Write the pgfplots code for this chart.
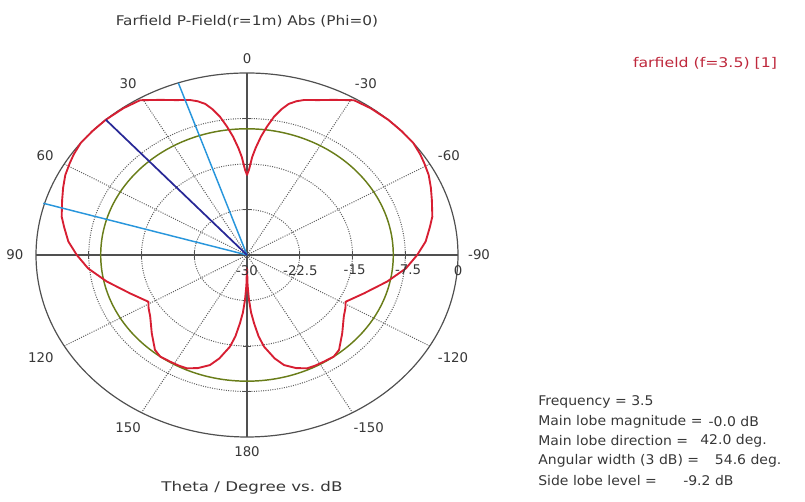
\documentclass[border=0pt]{standalone}
\usepackage{graphicx}
\usepackage{pgfplots}
\usepackage{pgfplotstable}
\usepackage{fontspec}
\setmainfont{DejaVu Sans}
\pgfplotsset{compat=1.18}

\definecolor{cstred}{RGB}{215,30,50}
\definecolor{gridgray}{RGB}{95,95,95}
\definecolor{axgray}{RGB}{80,80,80}
\definecolor{slgreen}{RGB}{105,125,25}
\definecolor{mlblue}{RGB}{40,40,150}
\definecolor{bwblue}{RGB}{40,150,220}
\definecolor{txt}{RGB}{55,55,55}
\definecolor{legred}{RGB}{190,40,60}

% theta (deg), dB
\pgfplotstableread{
theta dB
-180 -28
-179 -25
-177.8 -22.6
-176.5 -20.5
-174.9 -18.7
-173 -16.5
-170.9 -14.7
-167 -12.5
-163.8 -11.1
-159.5 -10.1
-155.4 -9.45
-152 -9.35
-148 -9.3
-143.6 -9.2
-140.1 -9.6
-133.6 -11.3
-126.4 -12.9
-122 -13.5
-118.8 -14.0
-110.8 -12.2
-102.4 -9.6
-95.6 -7.3
-90 -5.8
-85 -4.5
-80 -3.6
-76.5 -2.9
-71 -2.2
-67 -1.6
-63 -1.0
-59 -0.6
-56 -0.3
-52 0.0
-47 0.0
-42 0.0
-36 -0.1
-30.8 -0.3
-25.8 -1.6
-21.8 -2.5
-17.6 -3.2
-15.5 -3.7
-13.4 -4.4
-11.5 -5.5
-9.56 -6.9
-7.7 -8.6
-5.8 -10.4
-4 -12.3
-2.65 -13.8
-1.1 -16.0
0 -16.8
1.1 -16.0
2.65 -13.8
4 -12.3
5.8 -10.4
7.7 -8.6
9.56 -6.9
11.5 -5.5
13.4 -4.4
15.5 -3.7
17.6 -3.2
21.8 -2.5
25.8 -1.6
30.8 -0.3
36 -0.1
42 0.0
47 0.0
52 0.0
56 -0.3
59 -0.6
63 -1.0
67 -1.6
71 -2.2
76.5 -2.9
80 -3.6
85 -4.5
90 -5.8
95.6 -7.3
102.4 -9.6
110.8 -12.2
118.8 -14.0
122 -13.5
126.4 -12.9
133.6 -11.3
140.1 -9.6
143.6 -9.2
148 -9.3
152 -9.35
155.4 -9.45
159.5 -10.1
163.8 -11.1
167 -12.5
170.9 -14.7
173 -16.5
174.9 -18.7
176.5 -20.5
177.8 -22.6
179 -25
180 -28
}\tblfarfield

\pgfplotstableread{
theta dB
0 -30
42 0
}\tblmainlobe
\pgfplotstableread{
theta dB
0 -30
19.0 0
}\tblbwa
\pgfplotstableread{
theta dB
0 -30
73.6 0.2
}\tblbwb

\tikzset{lbl/.style={text=txt, font=\fontsize{10}{12}\selectfont, inner sep=0pt}}

\begin{document}
\begin{tikzpicture}
\begin{axis}[
  scale only axis,
  width=603.75pt, height=375.75pt,
  xmin=-35.12, xmax=79.34, ymin=-40.55, ymax=42.03,
  hide axis, clip=false,
]
\draw[draw=none] (rel axis cs:0,0) rectangle (rel axis cs:1,1);
% grid circles
\draw[gridgray, densely dotted, line width=0.75pt] (axis cs:0,0) circle [radius=7.5];
\draw[gridgray, densely dotted, line width=0.75pt] (axis cs:0,0) circle [radius=15];
\draw[gridgray, densely dotted, line width=0.75pt] (axis cs:0,0) circle [radius=22.5];
% radial dotted lines
\draw[gridgray, densely dotted, line width=0.75pt] (axis cs:0,0) -- (axis cs:-15,25.98);
\draw[gridgray, densely dotted, line width=0.75pt] (axis cs:0,0) -- (axis cs:15,25.98);
\draw[gridgray, densely dotted, line width=0.75pt] (axis cs:0,0) -- (axis cs:-15,-25.98);
\draw[gridgray, densely dotted, line width=0.75pt] (axis cs:0,0) -- (axis cs:15,-25.98);
\draw[gridgray, densely dotted, line width=0.75pt] (axis cs:0,0) -- (axis cs:-25.98,15);
\draw[gridgray, densely dotted, line width=0.75pt] (axis cs:0,0) -- (axis cs:25.98,15);
\draw[gridgray, densely dotted, line width=0.75pt] (axis cs:0,0) -- (axis cs:-25.98,-15);
\draw[gridgray, densely dotted, line width=0.75pt] (axis cs:0,0) -- (axis cs:25.98,-15);
% axes lines
\draw[axgray, line width=0.8pt] (axis cs:-30,0) -- (axis cs:30,0);
\draw[axgray, line width=0.8pt] (axis cs:0,-30) -- (axis cs:0,30);
\draw[axgray, line width=0.6pt] (axis cs:7.5,-0.6) -- (axis cs:7.5,0.6);
\draw[axgray, line width=0.6pt] (axis cs:15,-0.6) -- (axis cs:15,0.6);
\draw[axgray, line width=0.6pt] (axis cs:22.5,-0.6) -- (axis cs:22.5,0.6);
\draw[axgray, line width=0.6pt] (axis cs:-7.5,-0.6) -- (axis cs:-7.5,0.6);
\draw[axgray, line width=0.6pt] (axis cs:-15,-0.6) -- (axis cs:-15,0.6);
\draw[axgray, line width=0.6pt] (axis cs:-22.5,-0.6) -- (axis cs:-22.5,0.6);
\draw[axgray, line width=0.6pt] (axis cs:-0.5,7.5) -- (axis cs:0.5,7.5);
\draw[axgray, line width=0.6pt] (axis cs:-0.5,15) -- (axis cs:0.5,15);
\draw[axgray, line width=0.6pt] (axis cs:-0.5,22.5) -- (axis cs:0.5,22.5);
\draw[axgray, line width=0.6pt] (axis cs:-0.5,-7.5) -- (axis cs:0.5,-7.5);
\draw[axgray, line width=0.6pt] (axis cs:-0.5,-15) -- (axis cs:0.5,-15);
\draw[axgray, line width=0.6pt] (axis cs:-0.5,-22.5) -- (axis cs:0.5,-22.5);
\draw[axgray, line width=0.9pt] (axis cs:0,0) circle [radius=30];
% side lobe level circle
\draw[slgreen, line width=1.1pt] (axis cs:0,0) circle [radius=20.8];

% pattern
\addplot[cstred, line width=1.4pt, line join=round] table[
  x expr={-(\thisrow{dB}+30)*sin(\thisrow{theta})},
  y expr={(\thisrow{dB}+30)*cos(\thisrow{theta})}] {\tblfarfield};
\addplot[bwblue, line width=1.1pt] table[
  x expr={-(\thisrow{dB}+30)*sin(\thisrow{theta})},
  y expr={(\thisrow{dB}+30)*cos(\thisrow{theta})}] {\tblbwa};
\addplot[bwblue, line width=1.1pt] table[
  x expr={-(\thisrow{dB}+30)*sin(\thisrow{theta})},
  y expr={(\thisrow{dB}+30)*cos(\thisrow{theta})}] {\tblbwb};
\addplot[mlblue, line width=1.3pt] table[
  x expr={-(\thisrow{dB}+30)*sin(\thisrow{theta})},
  y expr={(\thisrow{dB}+30)*cos(\thisrow{theta})}] {\tblmainlobe};

% angle labels
\node[lbl] at (axis cs:0,32.3) {0};
\node[lbl] at (axis cs:-16.9,28.3) {30};
\node[lbl] at (axis cs:16.9,28.3) {-30};
\node[lbl] at (axis cs:-28.7,16.4) {60};
\node[lbl] at (axis cs:28.7,16.4) {-60};
\node[lbl] at (axis cs:-33.0,0) {90};
\node[lbl] at (axis cs:33.0,0) {-90};
\node[lbl] at (axis cs:-29.3,-16.9) {120};
\node[lbl] at (axis cs:29.3,-16.9) {-120};
\node[lbl] at (axis cs:-16.9,-28.4) {150};
\node[lbl] at (axis cs:17.3,-28.4) {-150};
\node[lbl] at (axis cs:0,-32.4) {180};
% radial labels
\node[lbl] at (axis cs:0,-2.5) {-30};
\node[lbl] at (axis cs:7.6,-2.5) {-22.5};
\node[lbl] at (axis cs:15.3,-2.5) {-15};
\node[lbl] at (axis cs:22.9,-2.5) {-7.5};
\node[lbl] at (axis cs:30,-2.5) {0};
% titles
\node[lbl] at (axis cs:0,38.5) {\scalebox{1.15}[1]{Farfield P-Field(r=1m) Abs (Phi=0)}};
\node[lbl] at (axis cs:0.7,-38.4) {\scalebox{1.25}[1]{Theta / Degree vs.\ dB}};
\node[lbl, text=legred] at (axis cs:65.12,31.6) {\scalebox{1.18}[1]{farfield (f=3.5) [1]}};
% info block
\node[lbl, anchor=west] at (axis cs:41.38,-24.18) {\scalebox{1.05}[1]{Frequency = 3.5}};
\node[lbl, anchor=west] at (axis cs:41.38,-27.48) {\scalebox{1.05}[1]{Main lobe magnitude =}};
\node[lbl, anchor=west] at (axis cs:65.6,-27.48) {\scalebox{1.05}[1]{-0.0 dB}};
\node[lbl, anchor=west] at (axis cs:41.38,-30.66) {\scalebox{1.05}[1]{Main lobe direction =}};
\node[lbl, anchor=west] at (axis cs:64.41,-30.66) {\scalebox{1.05}[1]{42.0 deg.}};
\node[lbl, anchor=west] at (axis cs:41.38,-33.95) {\scalebox{1.05}[1]{Angular width (3 dB) =}};
\node[lbl, anchor=west] at (axis cs:66.5,-33.95) {\scalebox{1.05}[1]{54.6 deg.}};
\node[lbl, anchor=west] at (axis cs:41.38,-37.2) {\scalebox{1.05}[1]{Side lobe level =}};
\node[lbl, anchor=west] at (axis cs:61.99,-37.2) {\scalebox{1.05}[1]{-9.2 dB}};
\end{axis}
\pgfresetboundingbox
\path (current axis.south west) rectangle (current axis.north east);
\end{tikzpicture}
\end{document}
